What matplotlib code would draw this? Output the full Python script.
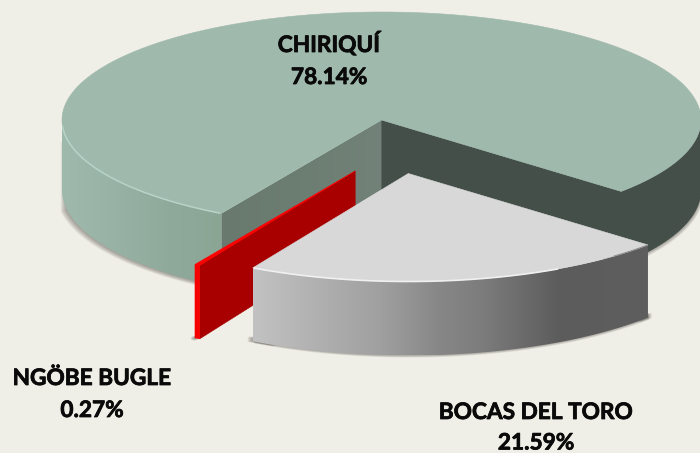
import numpy as np
import matplotlib
matplotlib.use("Agg")
import matplotlib.pyplot as plt
import matplotlib.patheffects as pe
from matplotlib.patches import Polygon
from matplotlib.colors import LinearSegmentedColormap

# --- data ---
labels = ["CHIRIQUÍ", "BOCAS DEL TORO", "NGÖBE BUGLE"]
shares = [78.14, 21.59, 0.27]
value_labels = ["78.14%", "21.59%", "0.27%"]

# --- projection / style ---
BG = "#f0efe7"
CX, CY, RX, RY, RY_B, H = 381.5, 120.0, 319.5, 108.0, 112.0, 70.0
START = -41.4
OFFSET_BOCAS = (26.8, 53.5)
OFFSET_NGOBE = (-26.3, 51.0)

plt.rcParams["font.family"] = ["Lato", "DejaVu Sans"]
fig = plt.figure(figsize=(7.0, 4.53), dpi=100, facecolor=BG)
ax = fig.add_axes([0, 0, 1, 1])
ax.set_facecolor(BG)
ax.axis("off")


def rim(t0, t1, off=(0, 0), n=160):
    t = np.radians(np.linspace(t0, t1, n))
    return np.column_stack([CX + off[0] + RX * np.cos(t),
                            CY + off[1] - RY * np.sin(t)])


def low(t0, t1, off=(0, 0), n=160):
    t = np.radians(np.linspace(t0, t1, n))
    return np.column_stack([CX + off[0] + RX * np.cos(t),
                            CY + off[1] + H - RY_B * np.sin(t)])


def solid(pts, color, z):
    p = Polygon(pts, closed=True, fc=color, ec=color, lw=0.4, zorder=z)
    ax.add_patch(p)
    return p


def gradient(pts, stops, z):
    pts = np.asarray(pts)
    p = Polygon(pts, closed=True, fc="none", ec="none", zorder=z)
    ax.add_patch(p)
    x0, x1, y0, y1 = pts[:, 0].min(), pts[:, 0].max(), pts[:, 1].min(), pts[:, 1].max()
    cmap = LinearSegmentedColormap.from_list("g", stops)
    im = ax.imshow(np.linspace(0, 1, 256)[None, :], cmap=cmap, aspect="auto",
                   extent=(x0, x1, y1, y0), zorder=z, interpolation="bilinear")
    im.set_clip_path(p)


def side(t0, t1, off=(0, 0)):
    return np.vstack([rim(t0, t1, off), low(t1, t0, off)])


def band(t0, t1, off=(0, 0), h=5):
    return np.vstack([low(t0, t1, off) - (0, h), low(t1, t0, off)])


def shadow(pts, dx, dy, z, steps=6, a=0.085):
    for k in range(1, steps + 1):
        q = np.asarray(pts) + np.array([dx * k / steps, dy * k / steps])
        ax.add_patch(Polygon(q, closed=True, fc="#45403c", ec="none",
                             alpha=a, zorder=z))


sweep_bocas = shares[1] * 3.6
sweep_ngobe = shares[2] * 3.6
sweep_main = shares[0] * 3.6
b_end = START - sweep_bocas
n_end = b_end - sweep_ngobe
main_end = START + sweep_main
apex = np.array([CX, CY])
base = np.array([0, H])

# --- shadows ---
shadow(side(-41.4, 0), 2.5, 3.0, 1)
shadow(side(main_end, 190), -6, 2.5, 1)

# --- main slice: CHIRIQUÍ ---
corner_l = rim(main_end, main_end, n=1)[0]
corner_r = rim(START, START, n=1)[0]
low_l = low(main_end, main_end, n=1)[0]
gradient([apex, corner_l, low_l, apex + base],
         ["#69796e", "#6c7d72", "#728278"], 2)
gradient(side(180, main_end), ["#9fb9ad", "#98b2a5", "#8fa99b", "#8ba595"], 3)
dark = np.vstack([[apex], rim(START, 0), low(0, START), [apex + base]])
solid(dark, "#434f48", 3)
solid(np.vstack([[apex], rim(START, main_end, n=500)]), "#9fb9ac", 4)
r = rim(183, main_end - 0.3)
ax.plot(r[:, 0], r[:, 1], color="#b7d4c8", lw=1.1, zorder=5, solid_capstyle="butt")

# --- NGÖBE BUGLE slice ---
o_n = OFFSET_NGOBE
tip_n = apex + o_n
c1 = rim(b_end, b_end, o_n, n=1)[0]
c2 = rim(n_end, n_end, o_n, n=1)[0]
l1 = low(b_end, b_end, o_n, n=1)[0]
l2 = low(n_end, n_end, o_n, n=1)[0]
shadow(np.vstack([l2, l1, l1 + (0, -3), l2 + (0, -3)]), -4, 2, 5, 4, 0.15)
solid([tip_n, c1, l1, tip_n + base], "#a80000", 6)
solid(side(n_end, b_end, o_n), "#f50000", 7)
solid(np.vstack([[tip_n], rim(b_end, n_end, o_n, n=6)]), "#ff0000", 7)

# --- BOCAS DEL TORO slice ---
o_b = OFFSET_BOCAS
tip_b = apex + o_b
shadow(band(b_end, START, o_b), 1.5, 2.0, 8, 4, 0.10)
shadow(band(b_end, b_end + 5, o_b), -5, 0.5, 8, 4, 0.12)
shadow(band(START - 3, START, o_b), 4, 0.5, 8, 4, 0.10)
gradient(side(b_end, START, o_b),
         [(0.0, "#c2c2c2"), (0.117, "#b5b5b5"), (0.32, "#a0a0a0"), (0.47, "#878787"),
          (0.575, "#7d7d7d"), (0.775, "#5c5c5c"), (1.0, "#5e5e5e")], 9)
solid(np.vstack([[tip_b], rim(START, b_end, o_b, n=300)]), "#d8d8d8", 10)
r = rim(b_end + 0.2, -62, o_b)
ax.plot(r[:, 0], r[:, 1], color="#f0f0f0", lw=1.2, zorder=11, solid_capstyle="butt")
r = rim(-50, START, o_b)
ax.plot(r[:, 0], r[:, 1], color="#8e8e8e", lw=0.8, zorder=11, solid_capstyle="butt")

# --- labels ---
label_pos = [(329, 52, 84), (536, 419, 449.5), (92, 385, 417)]
stroke = [pe.withStroke(linewidth=0.55, foreground="#0a0a0a")]
for name, val, (x, y1, y2) in zip(labels, value_labels, label_pos):
    for txt, y in ((name, y1), (val, y2)):
        ax.text(x, y, txt, ha="center", va="baseline", fontsize=16.3, fontweight="bold",
                color="#0a0a0a", zorder=20, path_effects=stroke)

ax.set_xlim(0, 700)
ax.set_ylim(453, 0)
fig.savefig("out.png", dpi=100, facecolor=BG)
